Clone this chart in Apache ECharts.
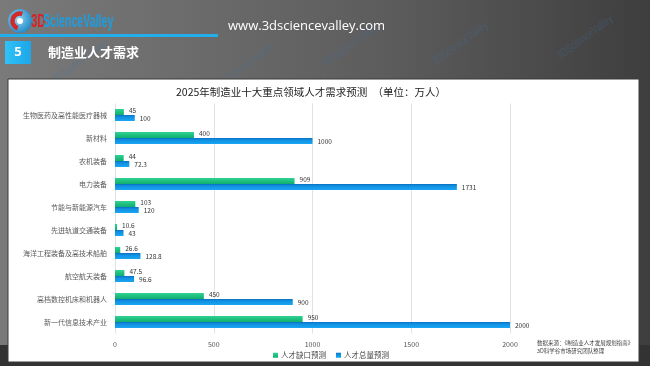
<!DOCTYPE html>
<html>
<head>
<meta charset="utf-8">
<script src="https://cdn.jsdelivr.net/npm/echarts@6/dist/echarts.min.js"></script>
<style>html,body{margin:0;padding:0;background:#555;}#c{width:650px;height:366px;}</style>
</head>
<body>
<div id="c"></div>
<script>
var categories = ['生物医药及高性能医疗器械','新材料','农机装备','电力装备','节能与新能源汽车','先进轨道交通装备','海洋工程装备及高技术船舶','航空航天装备','高档数控机床和机器人','新一代信息技术产业'];
var gapValues = [45, 400, 44, 909, 103, 10.6, 26.6, 47.5, 450, 950];
var totalValues = [100, 1000, 72.3, 1731, 120, 43, 128.8, 96.6, 900, 2000];
var seriesNames = ['人才缺口预测', '人才总量预测'];
var xTicks = [0, 500, 1000, 1500, 2000];

var FONT = '"Noto Sans CJK SC", "Noto Sans", sans-serif';
var chart = echarts.init(document.getElementById('c'), null, {renderer: 'canvas'});

var watermarks = [];
[[50,76],[215,80],[320,60],[430,58],[555,52]].forEach(function(p){
  watermarks.push({type:'text', x:p[0], y:p[1], rotation: Math.PI/5, scaleX: 0.7, z: 1,
    style:{text:'3DScienceValley', font:'bold 12px "Liberation Sans", sans-serif', fill:'rgba(70,120,170,0.22)'}});
});

var option = {
  animation: false,
  backgroundColor: 'transparent',
  graphic: [
    {type:'rect', z:0, shape:{x:0,y:0,width:650,height:366},
      style:{fill:{type:'linear',x:0,y:0,x2:1,y2:0,colorStops:[{offset:0,color:'#7a7a7a'},{offset:0.6,color:'#5c5c5c'},{offset:1,color:'#3e3e3e'}]}}},
    {type:'rect', z:0, shape:{x:0,y:345,width:650,height:21}, style:{fill:'#333333'}}
  ].concat(watermarks).concat([
    // header line and section box
    {type:'rect', z:2, shape:{x:0,y:34,width:218,height:3}, style:{fill:'#22aee8'}},
    {type:'rect', z:2, shape:{x:5,y:41,width:26,height:23},
      style:{fill:{type:'linear',x:0,y:0,x2:1,y2:0,colorStops:[{offset:0,color:'#2fc2f7'},{offset:1,color:'#1ea6e6'}]}}},
    {type:'text', z:3, x:18, y:52.5, style:{text:'5', font:'bold 13px "Open Sans", sans-serif', fill:'#fff', align:'center', verticalAlign:'middle'}},
    {type:'text', z:3, x:48, y:52.5, style:{text:'制造业人才需求', font:'bold 13px ' + FONT, fill:'#ffffff', verticalAlign:'middle'}},
    {type:'text', z:3, x:228, y:26, style:{text:'www.3dsciencevalley.com', font:'13px "Open Sans", sans-serif', fill:'#ffffff', verticalAlign:'middle'}},
    // logo
    {type:'circle', z:3, shape:{cx:20,cy:21,r:12}, style:{fill:{type:'radial',x:0.4,y:0.4,r:0.7,colorStops:[{offset:0,color:'#8fd8f5'},{offset:1,color:'#1a7fc0'}]}}},
    {type:'arc', z:4, shape:{cx:20,cy:21,r:7.5,startAngle:Math.PI*0.6,endAngle:Math.PI*1.6}, style:{stroke:'#d02a2a',lineWidth:4.5,fill:null}},
    {type:'circle', z:4, shape:{cx:20,cy:21,r:3}, style:{fill:'#ffffff'}},
    {type:'text', z:4, x:31, y:22, scaleX:0.6, style:{text:'3D', font:'bold 19px "Liberation Sans", sans-serif', fill:'#d4242a', verticalAlign:'middle'}},
    {type:'text', z:4, x:43, y:22, scaleX:0.56, style:{text:'ScienceValley', font:'bold 19px "Liberation Sans", sans-serif', fill:'#1c9ee0', verticalAlign:'middle'}},
    // panel
    {type:'rect', z:5, shape:{x:8,y:79,width:631,height:283}, style:{fill:'#ffffff', stroke:'#3a3a3a', lineWidth:1}},
    // title
    {type:'text', z:10, x:311, y:92, style:{text:'2025年制造业十大重点领域人才需求预测　（单位：万人）', font:'10.5px ' + FONT, fill:'#222222', align:'center', verticalAlign:'middle'}},
    // source
    {type:'text', z:10, x:537, y:343, style:{text:'数据来源：《制造业人才发展规划指南》', font:'5.5px ' + FONT, fill:'#444444', verticalAlign:'middle'}},
    {type:'text', z:10, x:537, y:351, style:{text:'3D科学谷市场研究团队整理', font:'5.5px ' + FONT, fill:'#444444', verticalAlign:'middle'}}
  ]),
  legend: {
    data: seriesNames,
    bottom: 2,
    left: 268,
    itemWidth: 5,
    itemHeight: 5,
    itemGap: 10,
    icon: 'rect',
    textStyle: {fontSize: 7.5, color: '#444', fontFamily: FONT, padding:[0,0,0,-2]},
    z: 20
  },
  grid: {left: 115, right: 140, top: 103.5, bottom: 32.5, containLabel: false, z: 10},
  xAxis: {
    type: 'value', min: 0, max: 2000, interval: 500,
    axisLine: {show: false}, axisTick: {show: false},
    splitLine: {show: true, lineStyle: {color: '#e2e2e2', width: 1}},
    axisLabel: {fontSize: 7, color: '#555', fontFamily: FONT, margin: 7,
      formatter: function(v){ return xTicks.indexOf(v) >= 0 ? String(v) : ''; }},
    z: 10
  },
  yAxis: {
    type: 'category', data: categories, inverse: true,
    axisLine: {show: false}, axisTick: {show: false},
    axisLabel: {fontSize: 7, color: '#5a5a5a', fontFamily: FONT, margin: 8},
    z: 10
  },
  series: [
    {
      name: seriesNames[0], type: 'bar', data: gapValues, barWidth: 6, barGap: '0%', z: 10,
      itemStyle: {color: {type:'linear',x:0,y:0,x2:0,y2:1,colorStops:[{offset:0,color:'#2fd391'},{offset:1,color:'#10ae6e'}]}},
      label: {show: true, position: 'right', distance: 5, fontSize: 6.5, color: '#333', fontFamily: FONT, offset:[0,-1]}
    },
    {
      name: seriesNames[1], type: 'bar', data: totalValues, barWidth: 6, barGap: '0%', z: 10,
      itemStyle: {color: {type:'linear',x:0,y:0,x2:0,y2:1,colorStops:[{offset:0,color:'#0a6fc0'},{offset:0.3,color:'#0f8ee0'},{offset:1,color:'#1aa6f2'}]}},
      label: {show: true, position: 'right', distance: 5, fontSize: 6.5, color: '#333', fontFamily: FONT, offset:[0,1]}
    }
  ],
  color: ['#1ec07c', '#0f8ee0']
};
chart.setOption(option);
</script>
</body>
</html>
